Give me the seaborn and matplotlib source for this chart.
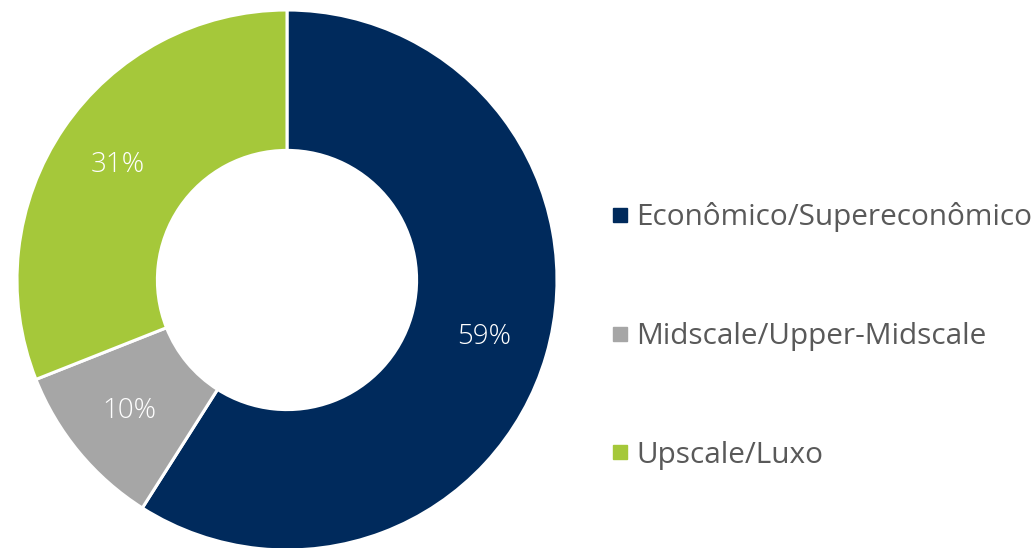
import matplotlib
matplotlib.use("Agg")
import matplotlib.pyplot as plt
from matplotlib.lines import Line2D
import seaborn as sns

categories = ["Econômico/Supereconômico", "Midscale/Upper-Midscale", "Upscale/Luxo"]
shares = [59, 10, 31]
colors = ["#002A5C", "#A6A6A6", "#A5C83A"]

sns.set_theme(style="white")
plt.rcParams["font.family"] = ["Open Sans", "DejaVu Sans"]

fig = plt.figure(figsize=(10.36, 5.48), dpi=100)
ax = fig.add_axes([17 / 1036, -2 / 548, 540 / 1036, 540 / 548])

wedges, _, autotexts = ax.pie(
    shares,
    colors=colors,
    startangle=90,
    counterclock=False,
    radius=1.0,
    autopct=lambda p: f"{p:.0f}%",
    pctdistance=0.76,
    wedgeprops=dict(width=0.52, edgecolor="white", linewidth=2.2),
    textprops=dict(color="white", fontsize=20),
)
for t in autotexts:
    t.set_fontweight("light")
ax.set_xlim(-1, 1)
ax.set_ylim(-1, 1)
ax.set_aspect("equal")
ax.axis("off")

handles = [
    Line2D([0], [0], marker="s", linestyle="none", markersize=10,
           markerfacecolor=c, markeredgecolor=c)
    for c in colors
]
fig.legend(
    handles, categories,
    loc="center left",
    bbox_to_anchor=(593 / 1036, 1 - 336 / 548),
    frameon=False,
    fontsize=21.4,
    labelcolor="#595959",
    handletextpad=0.15,
    handlelength=0.8,
    labelspacing=3.02,
    borderpad=0,
)

fig.savefig("out.png", dpi=100, facecolor="white")
